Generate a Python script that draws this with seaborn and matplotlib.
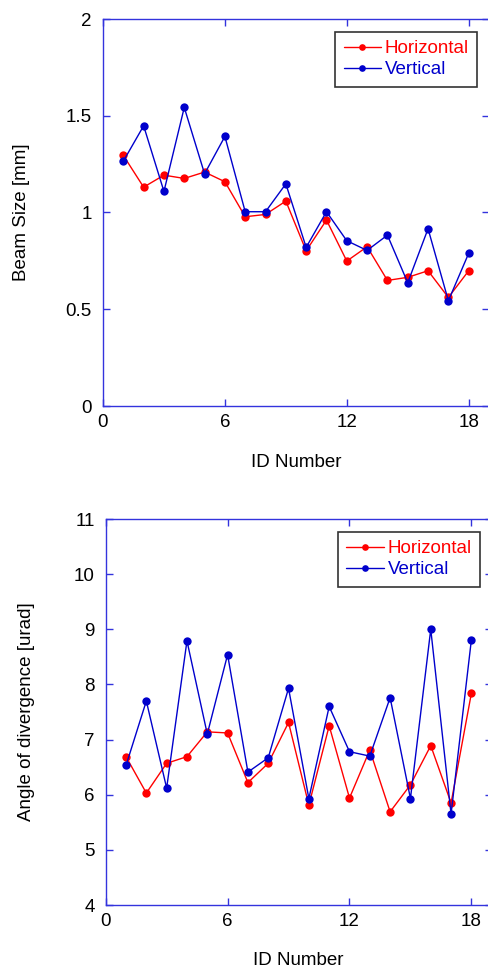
import matplotlib
matplotlib.use("Agg")
import matplotlib.pyplot as plt
import seaborn as sns
import pandas as pd

ids = list(range(1, 19))
beam_h = [1.295, 1.131, 1.193, 1.176, 1.209, 1.159, 0.978, 0.990, 1.059, 0.802,
          0.961, 0.749, 0.823, 0.649, 0.665, 0.699, 0.561, 0.699]
beam_v = [1.265, 1.448, 1.109, 1.543, 1.200, 1.393, 1.004, 1.004, 1.148, 0.820,
          1.004, 0.854, 0.804, 0.883, 0.637, 0.916, 0.544, 0.789]
div_h = [6.69, 6.03, 6.57, 6.69, 7.14, 7.12, 6.22, 6.57, 7.31, 5.81,
         7.25, 5.94, 6.81, 5.69, 6.18, 6.89, 5.85, 7.84]
div_v = [6.53, 7.70, 6.12, 8.79, 7.10, 8.54, 6.41, 6.67, 7.93, 5.93,
         7.60, 6.78, 6.70, 7.76, 5.93, 9.00, 5.65, 8.81]
series_names = ["Horizontal", "Vertical"]
xticks = [0, 6, 12, 18]

sns.set_style("ticks")
plt.rcParams["font.family"] = ["Liberation Sans", "DejaVu Sans"]
plt.rcParams["font.size"] = 13.5
plt.rcParams["text.color"] = "black"
plt.rcParams["axes.labelcolor"] = "black"
plt.rcParams["xtick.labelcolor"] = "black"
plt.rcParams["ytick.labelcolor"] = "black"

RED = "#FF0000"
BLUE = "#0000CC"
SPINE = "#3333DD"

fig = plt.figure(figsize=(4.88, 9.71), dpi=100)
ax1 = fig.add_axes([103/488, 1 - 406/971, 386/488, 387/971])
ax2 = fig.add_axes([105.7/488, 1 - 905/971, 386/488, 386/971])


def make_df(h, v):
    return pd.DataFrame({
        "ID": ids * 2,
        "val": h + v,
        "series": [series_names[0]] * len(ids) + [series_names[1]] * len(ids),
    })


def draw(ax, df, ylim, yticks, ylabel, ytl, legend_anchor, xlab_y, ylab_x):
    sns.lineplot(data=df, x="ID", y="val", hue="series",
                 palette={series_names[0]: RED, series_names[1]: BLUE},
                 marker="o", markersize=6, markeredgewidth=0, linewidth=1.0,
                 ax=ax, legend=True)
    ax.set_xlim(0, 19)
    ax.set_ylim(*ylim)
    ax.set_xticks(xticks)
    ax.set_xticklabels([str(t) for t in xticks])
    ax.set_yticks(yticks)
    ax.set_yticklabels(ytl)
    ax.tick_params(direction="in", length=5, width=1, color=SPINE,
                   top=True, right=True, labelsize=13.5, labelcolor="black")
    ax.tick_params(axis="x", pad=5.5)
    ax.tick_params(axis="y", pad=8)
    for s in ax.spines.values():
        s.set_color(SPINE)
        s.set_linewidth(1.0)
        s.set_visible(True)
    ax.set_xlabel("ID Number", fontsize=13.5, va="center", color="black")
    ax.set_ylabel(ylabel, fontsize=13.5, va="center", color="black")
    ax.xaxis.set_label_coords(0.5, xlab_y)
    ax.yaxis.set_label_coords(ylab_x, 0.5)
    handles, labels = ax.get_legend_handles_labels()
    leg = ax.legend(handles, labels, loc="upper right",
                    bbox_to_anchor=legend_anchor, borderaxespad=0,
                    frameon=True, fancybox=False, framealpha=1,
                    edgecolor="#333333", handlelength=2.0, handletextpad=0.2,
                    borderpad=0.45, labelspacing=0.2, fontsize=13.5,
                    labelcolor="linecolor", markerscale=0.8)
    leg.get_frame().set_linewidth(1.2)


draw(ax1, make_df(beam_h, beam_v), (0, 2), [0, 0.5, 1, 1.5, 2], "Beam Size [mm]",
     ["0", "0.5", "1", "1.5", "2"], (0.970, 0.967), -0.147, -0.21)
draw(ax2, make_df(div_h, div_v), (4, 11), [4, 5, 6, 7, 8, 9, 10, 11],
     "Angle of divergence [urad]", [str(t) for t in range(4, 12)], (0.970, 0.967),
     -0.1425, -0.206)

fig.savefig("out.png", dpi=100)
